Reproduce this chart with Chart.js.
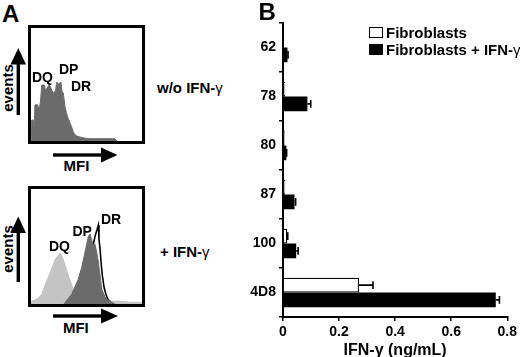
<!DOCTYPE html>
<html>
<head>
<meta charset="utf-8">
<script src="https://cdn.jsdelivr.net/npm/chart.js"></script>
<style>
  html, body { margin:0; padding:0; background:#fff; }
  body { width:520px; height:357px; position:relative; overflow:hidden;
         font-family:'Liberation Sans', Arial, sans-serif; font-weight:bold; color:#000; }
  .t { position:absolute; line-height:1; white-space:nowrap; font-size:15px; }
  .s14 { font-size:14px; }
  .box { position:absolute; border:3px solid #000; background:#fff; }
  .box canvas { display:block; }
  .g { font-weight:normal; }
  .sw { position:absolute; width:12px; height:9px; border:1.5px solid #000; }
</style>
</head>
<body>
<!-- Panel A -->
<div class="t" style="left:2px;top:2px;font-size:24px;">A</div>
<div class="box" style="left:28px;top:25px;width:111px;height:113px;"><canvas id="histTop" width="111" height="113"></canvas></div>
<div class="box" style="left:28px;top:186px;width:111px;height:115px;"><canvas id="histBottom" width="111" height="115"></canvas></div>

<div class="t" style="left:6.5px;top:88px;transform:translate(-50%,-50%) rotate(-90deg);">events</div>
<div class="t" style="left:6.5px;top:248.5px;transform:translate(-50%,-50%) rotate(-90deg);">events</div>
<div class="t" style="left:76.5px;top:165.3px;transform:translate(-50%,-50%);">MFI</div>
<div class="t" style="left:75.8px;top:326.7px;transform:translate(-50%,-50%);">MFI</div>

<div class="t s14" style="left:32px;top:76.7px;transform:translateY(-50%);">DQ</div>
<div class="t s14" style="left:59px;top:69.2px;transform:translateY(-50%);">DP</div>
<div class="t s14" style="left:71px;top:85.8px;transform:translateY(-50%);">DR</div>

<div class="t s14" style="left:49px;top:245.8px;transform:translateY(-50%);">DQ</div>
<div class="t s14" style="left:72.5px;top:230.7px;transform:translateY(-50%);">DP</div>
<div class="t s14" style="left:101px;top:219.2px;transform:translateY(-50%);">DR</div>

<div class="t" style="left:157px;top:86.5px;transform:translateY(-50%);">w/o IFN-<span class="g">γ</span></div>
<div class="t" style="left:160px;top:251px;transform:translateY(-50%);">+ IFN-<span class="g">γ</span></div>

<svg style="position:absolute;left:0;top:0;" width="520" height="357">
  <g fill="#000" stroke="none">
    <rect x="16.6" y="60" width="3.4" height="55"/>
    <polygon points="10.5,64.5 18.3,48 26,64.5"/>
    <rect x="16.6" y="228" width="3.4" height="54"/>
    <polygon points="10.5,233 18.3,216.5 26,233"/>
    <rect x="53" y="153.3" width="52" height="3.4"/>
    <polygon points="101,147.5 117.5,155 101,162.5"/>
    <rect x="53" y="314.3" width="52" height="3.4"/>
    <polygon points="101,308.5 118,316 101,323.5"/>
  </g>
</svg>

<!-- Panel B -->
<div class="t" style="left:258.5px;top:0px;font-size:24px;">B</div>
<canvas id="barB" width="285" height="360" style="position:absolute;left:235px;top:0;display:block;"></canvas>
<div class="sw" style="left:369px;top:26.5px;background:#fff;"></div>
<div class="t" style="left:386px;top:32px;transform:translateY(-50%);">Fibroblasts</div>
<div class="sw" style="left:369px;top:43.5px;background:#000;"></div>
<div class="t" style="left:386px;top:49px;transform:translateY(-50%);">Fibroblasts + IFN-<span class="g">γ</span></div>

<script>
// ---------- Panel A: flow cytometry histograms (channel 0-1024, counts) ----------
const topChannels = [0, 6, 21, 28, 37, 62, 74, 88, 99, 123, 134, 148, 166, 180, 194, 208, 226, 237, 254, 277, 286, 298, 314, 327, 339, 360, 378, 390, 406, 422, 452, 498, 544, 590, 637, 683, 729, 775, 793];
const topCounts   = [0, 37, 37, 21, 64, 64, 53, 71, 99, 99, 89, 94, 99, 96, 89, 85, 89, 104, 101, 104, 87, 85, 60, 50, 42, 32, 23, 16, 11, 9, 7, 5, 4, 4, 4, 4, 4, 4, 0];

const dqChannels = [0, 5, 37, 65, 99, 129, 160, 191, 221, 252, 268, 289, 314, 344, 375, 406, 436, 470, 544, 637, 729, 821, 913, 1015, 1024];
const dqCounts   = [0, 5, 7, 10, 17, 33, 47, 61, 77, 85, 89, 82, 68, 50, 33, 17, 9, 5, 5, 5, 5, 5, 3, 3, 0];

const dpChannels = [304, 341, 375, 406, 436, 468, 492, 514, 528, 544, 560, 574, 590, 606, 621, 637, 652, 683, 713, 744, 775];
const dpCounts   = [0, 9, 17, 30, 43, 64, 85, 104, 117, 122, 111, 103, 104, 90, 73, 50, 26, 12, 7, 3, 0];

const drChannels = [415, 452, 489, 526, 554, 572, 584, 597, 609, 621, 627, 637, 646, 658, 673, 692, 713, 744, 775];
const drCounts   = [0, 10, 30, 60, 88, 100, 112, 122, 129, 137, 113, 96, 73, 50, 30, 16, 7, 3, 0];

// ---------- Panel B: IFN-gamma release ----------
const categories = ['62', '78', '80', '87', '100', '4D8'];
const fibroblasts = [0.004, 0.008, 0.006, 0.008, 0.015, 0.271];
const fibroblastsErr = [0, 0, 0, 0, 0.002, 0.05];
const fibroblastsIFN = [0.016, 0.087, 0.012, 0.041, 0.047, 0.759];
const fibroblastsIFNErr = [0.002, 0.012, 0.001, 0.004, 0.007, 0.013];
const xTicks = [0, 0.2, 0.4, 0.6, 0.8];

Chart.defaults.font.family = "'Liberation Sans', Arial, sans-serif";
Chart.defaults.font.weight = 'bold';
Chart.defaults.font.size = 14;
Chart.defaults.color = '#000';

function pts(xs, ys) { return xs.map((x, i) => ({ x: x, y: ys[i] })); }

function histChart(id, datasets) {
  return new Chart(document.getElementById(id), {
    type: 'line',
    data: { datasets: datasets },
    options: {
      responsive: false, animation: false, devicePixelRatio: 1,
      layout: { padding: 0 },
      scales: {
        x: { type: 'linear', min: 0, max: 1024, display: false },
        y: { type: 'linear', min: 0, max: 200, display: false }
      },
      plugins: { legend: { display: false }, tooltip: { enabled: false } },
      elements: { point: { radius: 0 }, line: { tension: 0 } }
    }
  });
}

histChart('histTop', [
  { data: pts(topChannels, topCounts), fill: 'origin', backgroundColor: '#6b6b6b', borderColor: '#6b6b6b', borderWidth: 1 }
]);

histChart('histBottom', [
  { data: pts(dpChannels, dpCounts), fill: 'origin', backgroundColor: '#6b6b6b', borderColor: '#6b6b6b', borderWidth: 1 },
  { data: pts(dqChannels, dqCounts), fill: 'origin', backgroundColor: '#c4c4c4', borderColor: '#c4c4c4', borderWidth: 1 },
  { data: pts(drChannels, drCounts), fill: 'origin', backgroundColor: '#ffffff', borderColor: '#000000', borderWidth: 1.6 }
]);

const errorBars = {
  id: 'errorBars',
  afterDatasetsDraw(chart) {
    const ctx = chart.ctx, xs = chart.scales.x;
    chart.data.datasets.forEach((ds, di) => {
      const meta = chart.getDatasetMeta(di);
      meta.data.forEach((bar, i) => {
        const e = ds.errors[i];
        if (!e) return;
        const x0 = bar.x, x1 = xs.getPixelForValue(ds.data[i] + e), y = bar.y;
        const cap = 3.8;
        ctx.save();
        ctx.strokeStyle = '#000'; ctx.lineWidth = 1.6;
        ctx.beginPath();
        ctx.moveTo(x0, y); ctx.lineTo(x1, y);
        ctx.moveTo(x1, y - cap); ctx.lineTo(x1, y + cap);
        ctx.stroke();
        ctx.restore();
      });
    });
  }
};

new Chart(document.getElementById('barB'), {
  type: 'bar',
  data: {
    labels: categories,
    datasets: [
      { label: 'Fibroblasts', data: fibroblasts, errors: fibroblastsErr,
        backgroundColor: '#ffffff', borderColor: '#000', borderWidth: 1.2,
        categoryPercentage: 0.6, barPercentage: 1.0 },
      { label: 'Fibroblasts + IFN-γ', data: fibroblastsIFN, errors: fibroblastsIFNErr,
        backgroundColor: '#000000', borderColor: '#000', borderWidth: 0,
        categoryPercentage: 0.6, barPercentage: 1.0 }
    ]
  },
  options: {
    indexAxis: 'y',
    responsive: false, animation: false, devicePixelRatio: 1,
    layout: { padding: { left: 0, right: 10, top: 23, bottom: 0 } },
    scales: {
      y: {
        type: 'category',
        afterFit: s => { s.width = 48; },
        ticks: { padding: 3, font: { size: 14, weight: 'bold' }, color: '#000' },
        grid: { display: true, drawOnChartArea: false, drawTicks: true, tickLength: 4, color: '#000', lineWidth: 1.5, offset: true },
        border: { display: true, color: '#000', width: 2 }
      },
      x: {
        type: 'linear', min: 0, max: 0.8,
        afterFit: s => { s.height = 43; },
        afterBuildTicks: s => { s.ticks = xTicks.map(v => ({ value: v })); },
        ticks: { padding: 3, font: { size: 14, weight: 'bold' }, color: '#000' },
        grid: { display: true, drawOnChartArea: false, drawTicks: true, tickLength: 4, color: '#000', lineWidth: 1.5 },
        border: { display: true, color: '#000', width: 2 },
        title: { display: true, text: 'IFN-γ (ng/mL)', font: { size: 16, weight: 'bold' }, color: '#000', padding: { top: 0, bottom: 0 } }
      }
    },
    plugins: { legend: { display: false }, tooltip: { enabled: false } }
  },
  plugins: [errorBars]
});
</script>
</body>
</html>
